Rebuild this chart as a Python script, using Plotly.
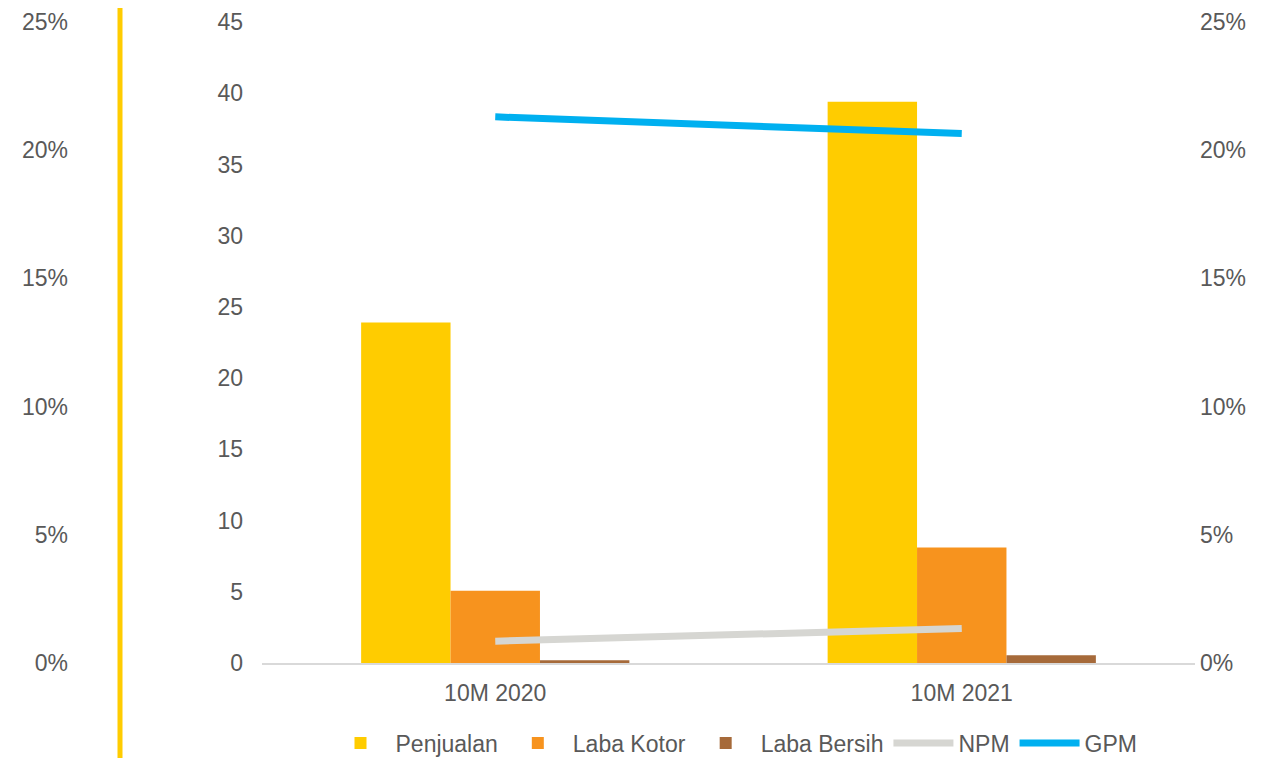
import plotly.graph_objects as go

categories = ["10M 2020", "10M 2021"]
penjualan = [23.9, 39.4]
laba_kotor = [5.07, 8.1]
laba_bersih = [0.2, 0.55]
npm = [0.0085, 0.0135]
gpm = [0.213, 0.2065]

left_ticks = [0, 5, 10, 15, 20, 25, 30, 35, 40, 45]
pct_ticks = [0, 0.05, 0.10, 0.15, 0.20, 0.25]
pct_labels = ["0%", "5%", "10%", "15%", "20%", "25%"]

FONT = "Liberation Sans, Arial, sans-serif"
GREY = "#595959"
FS = 23

fig = go.Figure()
fig.add_trace(go.Bar(x=categories, y=penjualan, name="Penjualan", marker_color="#FFCC00", marker_line_width=0))
fig.add_trace(go.Bar(x=categories, y=laba_kotor, name="Laba Kotor", marker_color="#F7931E", marker_line_width=0))
fig.add_trace(go.Bar(x=categories, y=laba_bersih, name="Laba Bersih", marker_color="#A66A3A", marker_line_width=0))
fig.add_trace(go.Scatter(x=categories, y=npm, name="NPM", mode="lines", yaxis="y2",
                         line=dict(color="#D6D6D2", width=7)))
fig.add_trace(go.Scatter(x=categories, y=gpm, name="GPM", mode="lines", yaxis="y2",
                         line=dict(color="#00B0F0", width=7)))
# invisible trace to activate far-left percent axis
fig.add_trace(go.Scatter(x=categories, y=[None, None], yaxis="y3", showlegend=False, hoverinfo="skip"))

# page offset (browser body margin) compensation
OFF = 8
W, H = 1287 - OFF, 758 - OFF
ml, mr, mt, mb = 70 - OFF, 90, 22 - OFF, 95
pw = W - ml - mr
ph = H - mt - mb


def px_x(x):
    return (x - OFF - ml) / pw


fig.update_layout(
    width=W, height=H,
    margin=dict(l=ml, r=mr, t=mt, b=mb, autoexpand=False),
    paper_bgcolor="white", plot_bgcolor="white",
    font=dict(family=FONT, size=FS, color=GREY),
    barmode="group", bargap=0.425, bargroupgap=0,
    showlegend=True,
    legend=dict(orientation="h", xref="container", yref="container",
                x=(734 - OFF) / W, xanchor="center",
                y=(758 - 743) / H, yanchor="middle",
                font=dict(size=FS, color=GREY, family=FONT),
                itemwidth=60, tracegroupgap=0, traceorder="normal"),
    xaxis=dict(domain=[px_x(262), px_x(1195)], automargin=False,
               showline=True, linecolor="#D9D9D9", linewidth=2,
               showgrid=False, zeroline=False, ticks="", ticklabelstandoff=8,
               tickfont=dict(size=FS, color=GREY)),
    yaxis=dict(range=[0, 45], tickvals=left_ticks, showgrid=False, zeroline=False,
               showline=False, ticks="", ticklabelstandoff=18, automargin=False,
               ticklabeloverflow="allow",
               tickfont=dict(size=FS, color=GREY)),
    yaxis2=dict(range=[0, 0.25], overlaying="y", side="right", anchor="x",
                tickvals=pct_ticks, ticktext=pct_labels, showgrid=False, zeroline=False,
                showline=False, ticks="", ticklabelstandoff=4, automargin=False,
                ticklabeloverflow="allow",
                tickfont=dict(size=FS, color=GREY)),
    yaxis3=dict(range=[0, 0.25], overlaying="y", side="left", anchor="free", position=0,
                tickvals=pct_ticks, ticktext=pct_labels, showgrid=False, zeroline=False,
                showline=False, ticks="", ticklabelstandoff=2, automargin=False,
                ticklabeloverflow="allow",
                tickfont=dict(size=FS, color=GREY)),
    shapes=[dict(type="line", xref="paper", yref="paper",
                 x0=px_x(120), x1=px_x(120),
                 y0=-mb / ph - 0.02, y1=1 + mt / ph + 0.02,
                 line=dict(color="#FFCC00", width=5))],
)

fig.write_html("out.html")
